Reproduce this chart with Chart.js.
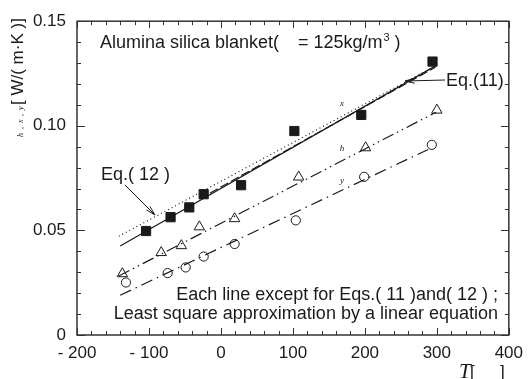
<!DOCTYPE html>
<html>
<head>
<meta charset="utf-8">
<script src="https://cdn.jsdelivr.net/npm/chart.js@4.4.0/dist/chart.umd.min.js"></script>
<style>
  html, body { margin: 0; padding: 0; background: #fff; }
  #wrap { width: 531px; height: 379px; }
</style>
</head>
<body>
<div id="wrap"><canvas id="chartLambda"></canvas></div>
<script>
// measured points (temperature in C, conductivity in W/(m K))
const xTemp = [-104, -70, -44, -24, 28, 102, 195, 294];
const xVals = [0.0497, 0.0563, 0.0610, 0.0673, 0.0716, 0.0975, 0.1052, 0.1307];

const hTemp = [-137, -83, -55, -30, 19, 108, 201, 300];
const hVals = [0.0293, 0.0394, 0.0427, 0.0517, 0.0556, 0.0755, 0.0895, 0.1075];

const yTemp = [-132, -74, -49, -24, 19, 104, 199, 293];
const yVals = [0.0251, 0.0296, 0.0323, 0.0375, 0.0435, 0.0548, 0.0756, 0.0909];

// fitted / equation lines, read at the ends
const eq12Temp = [-140, 300];
const eq12Vals = [0.0425, 0.1290];
const eq11Temp = [-30, 298];
const eq11Vals = [0.0650, 0.1280];
const fitXTemp = [-142, 292];
const fitXVals = [0.0472, 0.1275];
const fitHTemp = [-142, 299];
const fitHVals = [0.0282, 0.1065];
const fitYTemp = [-140, 288];
const fitYVals = [0.0190, 0.0887];

const xTicks = [-200, -100, 0, 100, 200, 300, 400];
const yTicks = [0, 0.05, 0.10, 0.15];

function pts(xs, ys) {
  return xs.map((v, i) => ({ x: v, y: ys[i] }));
}

const ink = '#1a1a1a';
const sans = '"Liberation Sans", Arial, sans-serif';
const serif = '"Liberation Serif", "Times New Roman", serif';

function lineSet(xs, ys, dash) {
  return {
    type: 'line',
    data: pts(xs, ys),
    borderColor: ink,
    borderWidth: 1.2,
    borderDash: dash,
    pointRadius: 0,
    fill: false
  };
}

// ticks pointing inward, box frame and all the texts
const decor = {
  id: 'decor',
  afterDraw(chart) {
    const c = chart.ctx;
    const a = chart.chartArea;
    const sx = chart.scales.x, sy = chart.scales.y;
    c.save();
    c.strokeStyle = '#333';
    c.lineWidth = 1.5;
    c.strokeRect(a.left, a.top, a.right - a.left, a.bottom - a.top);
    c.lineWidth = 1;
    c.beginPath();
    for (let v = -200; v <= 400; v += 20) {
      const p = Math.round(sx.getPixelForValue(v)) + 0.5;
      const len = v % 100 === 0 ? 7 : 4;
      c.moveTo(p, a.bottom); c.lineTo(p, a.bottom - len);
      c.moveTo(p, a.top); c.lineTo(p, a.top + len);
    }
    for (let i = 0; i <= 15; i++) {
      const p = Math.round(sy.getPixelForValue(i / 100)) + 0.5;
      const len = i % 5 === 0 ? 8 : 4;
      c.moveTo(a.left, p); c.lineTo(a.left + len, p);
      c.moveTo(a.right, p); c.lineTo(a.right - len, p);
    }
    c.stroke();

    c.fillStyle = ink;
    c.textBaseline = 'alphabetic';
    c.font = '18px ' + sans;
    c.textAlign = 'left';
    c.fillText('Alumina silica blanket(', 100, 48);
    c.fillText('= 125kg/m', 298, 48);
    let w = c.measureText('= 125kg/m').width;
    c.font = '11px ' + sans;
    c.fillText('3', 298 + w + 1, 41);
    c.font = '18px ' + sans;
    c.fillText(' )', 298 + w + 7, 48);

    c.fillText('Eq.(11)', 446, 86);
    c.fillText('Eq.( 12 )', 101, 180);
    c.textAlign = 'right';
    c.fillText('Each line except for Eqs.( 11 )and( 12 ) ;', 498, 300);
    c.fillText('Least square approximation by a linear equation', 498, 319);

    // arrows
    function arrow(x1, y1, x2, y2) {
      c.beginPath();
      c.moveTo(x1, y1); c.lineTo(x2, y2);
      c.stroke();
      const ang = Math.atan2(y2 - y1, x2 - x1);
      c.beginPath();
      c.moveTo(x2, y2);
      c.lineTo(x2 - 10 * Math.cos(ang - 0.25), y2 - 10 * Math.sin(ang - 0.25));
      c.moveTo(x2, y2);
      c.lineTo(x2 - 10 * Math.cos(ang + 0.25), y2 - 10 * Math.sin(ang + 0.25));
      c.stroke();
    }
    c.strokeStyle = ink;
    c.lineWidth = 1;
    arrow(445, 80, 405, 81);
    arrow(125, 185, 155, 215);

    // small line labels
    c.font = 'italic 9px ' + serif;
    c.textAlign = 'center';
    c.fillText('x', 342, 106);
    c.fillText('h', 342, 151);
    c.fillText('y', 342, 183);

    // x title
    c.font = 'italic 21px ' + serif;
    c.textAlign = 'left';
    c.fillText('T', 459, 378);
    c.font = '17px ' + sans;
    c.fillText('[', 470, 377);
    c.fillText(']', 500, 377);

    // y title, rotated
    c.translate(23, 137);
    c.rotate(-Math.PI / 2);
    c.font = 'italic 8px ' + serif;
    c.textAlign = 'left';
    c.fillText('h', 0, 0);
    c.fillText(',', 8, 0);
    c.fillText('x', 14, 0);
    c.fillText(',', 21, 0);
    c.fillText('y', 27, 0);
    c.font = '17px ' + sans;
    c.fillText('[ W/( m\u00b7K )]', 32, 0);
    c.restore();
  }
};

const ctx = document.getElementById('chartLambda');

new Chart(ctx, {
  type: 'scatter',
  data: {
    datasets: [
      lineSet(fitXTemp, fitXVals, [1, 3]),
      lineSet(eq12Temp, eq12Vals, []),
      lineSet(eq11Temp, eq11Vals, [9, 3]),
      lineSet(fitHTemp, fitHVals, [12, 4, 1.5, 4, 1.5, 4]),
      lineSet(fitYTemp, fitYVals, [12, 5, 1.5, 5]),
      {
        data: pts(xTemp, xVals),
        pointStyle: 'rect',
        pointRadius: 6.5,
        backgroundColor: ink,
        borderColor: ink,
        borderWidth: 1
      },
      {
        data: pts(hTemp, hVals),
        pointStyle: 'triangle',
        pointRadius: 6,
        backgroundColor: '#fff',
        borderColor: ink,
        borderWidth: 1
      },
      {
        data: pts(yTemp, yVals),
        pointStyle: 'circle',
        pointRadius: 4.6,
        backgroundColor: '#fff',
        borderColor: ink,
        borderWidth: 1
      }
    ]
  },
  options: {
    responsive: true,
    maintainAspectRatio: false,
    animation: false,
    layout: { padding: { top: 11, right: 15, left: 0, bottom: 0 } },
    plugins: {
      legend: { display: false },
      tooltip: { enabled: false }
    },
    scales: {
      x: {
        type: 'linear',
        min: -200,
        max: 400,
        afterFit(s) { s.height = 44; },
        afterBuildTicks(s) { s.ticks = xTicks.map(v => ({ value: v })); },
        grid: { display: false, drawTicks: false },
        border: { display: false },
        ticks: {
          padding: 8,
          color: ink,
          font: { size: 17, family: sans },
          maxRotation: 0,
          callback: v => v < 0 ? '- ' + Math.abs(v) : String(v)
        }
      },
      y: {
        type: 'linear',
        min: 0,
        max: 0.15,
        afterFit(s) { s.width = 77; },
        afterBuildTicks(s) { s.ticks = yTicks.map(v => ({ value: v })); },
        grid: { display: false, drawTicks: false },
        border: { display: false },
        ticks: {
          padding: 11,
          color: ink,
          font: { size: 17, family: sans },
          callback: v => v === 0 ? '0' : v.toFixed(2)
        }
      }
    }
  },
  plugins: [decor]
});
</script>
</body>
</html>
